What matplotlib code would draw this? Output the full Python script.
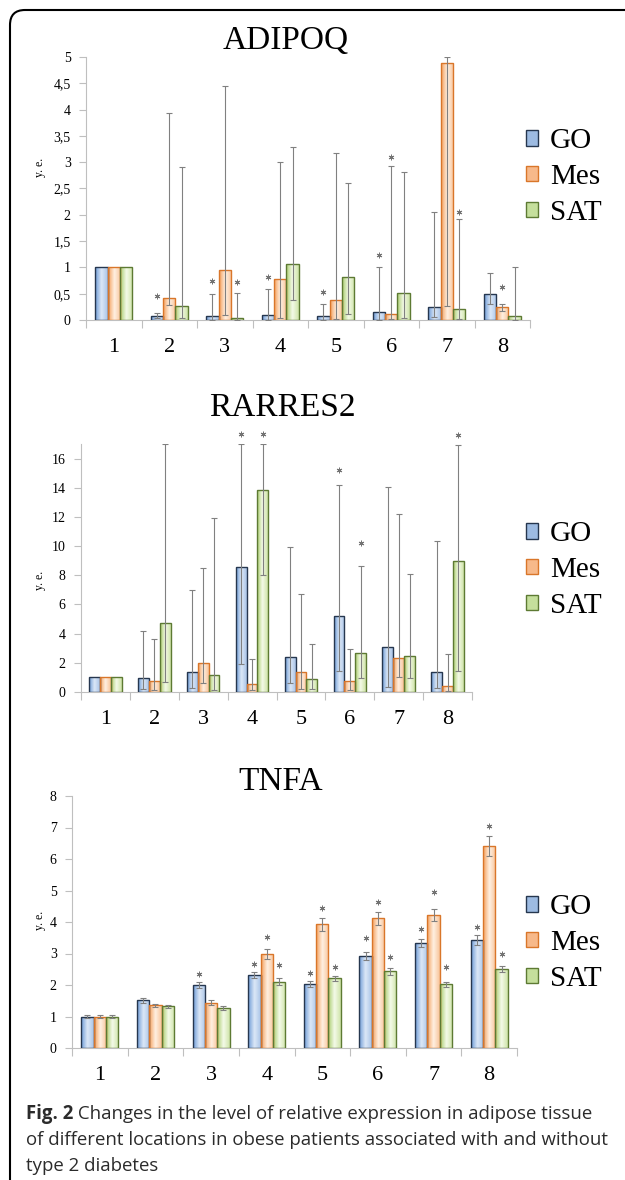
import numpy as np
import matplotlib
matplotlib.use('Agg')
import matplotlib.pyplot as plt
from matplotlib.colors import LinearSegmentedColormap
from matplotlib.patches import Rectangle, PathPatch
from matplotlib.path import Path
from matplotlib.ticker import FuncFormatter

nan = np.nan

groups = ['1', '2', '3', '4', '5', '6', '7', '8']
series = ['GO', 'Mes', 'SAT']

# ADIPOQ: bar value, lower / upper end of error bar, star height
adipoq_go = [1.0, 0.08, 0.08, 0.09, 0.07, 0.16, 0.25, 0.50]
adipoq_go_lo = [nan, 0.03, 0.0, 0.0, 0.0, 0.0, 0.05, 0.30]
adipoq_go_hi = [nan, 0.13, 0.50, 0.58, 0.30, 1.00, 2.05, 0.90]
adipoq_mes = [1.0, 0.42, 0.96, 0.77, 0.38, 0.12, 4.88, 0.24]
adipoq_mes_lo = [nan, 0.28, 0.09, 0.03, 0.02, 0.01, 0.27, 0.17]
adipoq_mes_hi = [nan, 3.93, 4.45, 3.00, 3.18, 2.93, 5.00, 0.30]
adipoq_sat = [1.0, 0.27, 0.03, 1.07, 0.81, 0.52, 0.20, 0.08]
adipoq_sat_lo = [nan, 0.03, 0.0, 0.38, 0.11, 0.03, 0.02, 0.0]
adipoq_sat_hi = [nan, 2.90, 0.51, 3.29, 2.61, 2.81, 1.92, 1.00]
adipoq_go_star = [nan, 0.45, 0.74, 0.82, 0.53, 1.24, nan, nan]
adipoq_mes_star = [nan, nan, nan, nan, nan, 3.09, nan, 0.62]
adipoq_sat_star = [nan, nan, 0.73, nan, nan, nan, 2.06, nan]

# RARRES2
rarres_go = [1.0, 0.98, 1.39, 8.58, 2.38, 5.23, 3.10, 1.35]
rarres_go_lo = [nan, 0.20, 0.26, 1.90, 0.60, 1.44, 0.37, 0.26]
rarres_go_hi = [nan, 4.18, 7.00, 17.0, 9.95, 14.2, 14.05, 10.34]
rarres_mes = [1.0, 0.77, 2.00, 0.52, 1.39, 0.75, 2.31, 0.43]
rarres_mes_lo = [nan, 0.14, 0.60, 0.14, 0.20, 0.14, 1.05, 0.10]
rarres_mes_hi = [nan, 3.60, 8.47, 2.24, 6.69, 2.92, 12.2, 2.58]
rarres_sat = [1.0, 4.75, 1.16, 13.84, 0.89, 2.69, 2.49, 8.99]
rarres_sat_lo = [nan, 0.70, 0.14, 8.01, 0.20, 0.98, 0.94, 1.44]
rarres_sat_hi = [nan, 17.0, 11.9, 17.0, 3.26, 8.66, 8.06, 16.96]
rarres_go_star = [nan, nan, nan, 17.7, nan, 15.25, nan, nan]
rarres_mes_star = [nan] * 8
rarres_sat_star = [nan, nan, nan, 17.7, nan, 10.2, nan, 17.65]

# TNFA (symmetric errors)
tnfa_go = [1.00, 1.51, 2.00, 2.32, 2.03, 2.92, 3.33, 3.43]
tnfa_go_err = [0.05, 0.07, 0.10, 0.10, 0.09, 0.12, 0.13, 0.15]
tnfa_mes = [1.00, 1.35, 1.44, 2.99, 3.93, 4.12, 4.22, 6.42]
tnfa_mes_err = [0.05, 0.06, 0.07, 0.15, 0.20, 0.20, 0.20, 0.32]
tnfa_sat = [1.00, 1.32, 1.27, 2.11, 2.22, 2.43, 2.03, 2.51]
tnfa_sat_err = [0.05, 0.06, 0.05, 0.10, 0.08, 0.10, 0.08, 0.10]
tnfa_go_star = [nan, nan, 2.34, 2.67, 2.38, 3.49, 3.79, 3.85]
tnfa_mes_star = [nan, nan, nan, 3.52, 4.45, 4.64, 4.94, 7.05]
tnfa_sat_star = [nan, nan, nan, 2.62, 2.58, 2.90, 2.58, 2.99]

caption_bold = 'Fig. 2'
caption_lines = [' Changes in the level of relative expression in adipose tissue',
                 'of different locations in obese patients associated with and without',
                 'type 2 diabetes']

SERIF = 'Liberation Serif'
plt.rcParams['font.family'] = SERIF

edge = {'GO': '#26374f', 'Mes': '#d9762a', 'SAT': '#5d7a33'}
shade = {'GO': ['#6d9bd6', '#dce8f7', '#a9c4e8'],
         'Mes': ['#f4a05c', '#fff0e2', '#f8c49a'],
         'SAT': ['#a9cc6c', '#f4fae9', '#cfe4a8']}
legend_face = {'GO': '#9dbbe2', 'Mes': '#f7b98a', 'SAT': '#c5df9c'}

W, H = 625, 1180
fig = plt.figure(figsize=(W / 100, H / 100), dpi=100)


def panel(box, title, title_pos, ymax, ystep, data, legend_y, ylabel_y, comma=False):
    left, top, right, bottom = box
    ax = fig.add_axes([left / W, 1 - bottom / H, (right - left) / W, (bottom - top) / H])
    x = np.arange(len(groups))
    width = 0.222
    grad = np.linspace(0, 1, 64).reshape(1, -1)
    for k, name in enumerate(series):
        vals, lo, hi, star = [np.array(a, dtype=float) for a in data[k]]
        pos = x + (k - 1) * width
        bars = ax.bar(pos, vals, width, facecolor='none', edgecolor=edge[name],
                      linewidth=1.0, zorder=3)
        cm = LinearSegmentedColormap.from_list(name, shade[name])
        for b in bars:
            x0 = b.get_x()
            im = ax.imshow(grad, cmap=cm, extent=(x0, x0 + b.get_width(), 0, b.get_height()),
                           aspect='auto', interpolation='bilinear', zorder=2)
            im.set_clip_path(b)
        ok = ~np.isnan(lo)
        ax.errorbar(pos[ok], vals[ok], yerr=[vals[ok] - lo[ok], hi[ok] - vals[ok]],
                    fmt='none', ecolor='#808080', elinewidth=0.8, capsize=2.5,
                    capthick=0.8, zorder=4)
        ax.plot(pos, star, linestyle='none', marker=(6, 2, 0), ms=4, mew=0.7,
                color='#737373', clip_on=False, zorder=5)

    ax.set_xlim(-0.5, len(groups) - 0.5)
    ax.set_ylim(0, ymax)
    ax.set_yticks(np.arange(0, ymax + 0.001, ystep))
    if comma:
        ax.yaxis.set_major_formatter(FuncFormatter(lambda v, p: ('%g' % v).replace('.', ',')))
    ax.set_xticks(x)
    ax.set_xticklabels(groups)
    ax.set_xticks(np.arange(-0.5, len(groups)), minor=True)
    ax.tick_params(axis='x', which='major', length=0, pad=13, labelsize=16)
    ax.tick_params(axis='x', which='minor', length=6, width=0.8, color='#bfbfbf')
    ax.tick_params(axis='y', length=5, width=0.8, color='#bfbfbf', pad=6, labelsize=10)
    for s in ['top', 'right']:
        ax.spines[s].set_visible(False)
    for s in ['left', 'bottom']:
        ax.spines[s].set_color('#bfbfbf')
        ax.spines[s].set_linewidth(0.8)

    fig.text(title_pos[0] / W, 1 - title_pos[1] / H, title, fontsize=24,
             ha='center', va='center')
    fig.text(40 / W, 1 - ylabel_y / H, 'y. e.', rotation=90, fontsize=8.5,
             ha='center', va='center')
    handles = [Rectangle((0, 0), 1, 1, facecolor=legend_face[n], edgecolor=edge[n], lw=1.0)
               for n in series]
    ax.legend(handles, series, loc='center left', bbox_to_anchor=(526 / W, 1 - legend_y / H),
              bbox_transform=fig.transFigure, frameon=False, prop={'size': 21},
              handlelength=0.42, handleheight=0.42, handletextpad=0.4,
              labelspacing=0.33, borderpad=0, borderaxespad=0)
    return ax


panel((86, 57, 530, 320), 'ADIPOQ', (286, 41), 5, 0.5,
      [(adipoq_go, adipoq_go_lo, adipoq_go_hi, adipoq_go_star),
       (adipoq_mes, adipoq_mes_lo, adipoq_mes_hi, adipoq_mes_star),
       (adipoq_sat, adipoq_sat_lo, adipoq_sat_hi, adipoq_sat_star)],
      177, 167, comma=True)

panel((81, 444, 472, 692), 'RARRES2', (282, 408), 17, 2,
      [(rarres_go, rarres_go_lo, rarres_go_hi, rarres_go_star),
       (rarres_mes, rarres_mes_lo, rarres_mes_hi, rarres_mes_star),
       (rarres_sat, rarres_sat_lo, rarres_sat_hi, rarres_sat_star)],
      570, 580)

tnfa = []
for v, e, s in [(tnfa_go, tnfa_go_err, tnfa_go_star),
                (tnfa_mes, tnfa_mes_err, tnfa_mes_star),
                (tnfa_sat, tnfa_sat_err, tnfa_sat_star)]:
    v = np.array(v)
    e = np.array(e)
    tnfa.append((v, v - e, v + e, s))
panel((72, 796, 517, 1048), 'TNFA', (281, 782), 8, 1, tnfa, 943, 920)

# caption
renderer = fig.canvas.get_renderer()
cap = dict(family='Open Sans', fontsize=13.4, color='#2b2b2b', va='baseline')
t = fig.text(26 / W, 1 - 1119 / H, caption_bold, fontweight='bold', **cap)
bb = t.get_window_extent(renderer)
fig.text(bb.x1 / W, 1 - 1119 / H, caption_lines[0], **cap)
fig.text(26 / W, 1 - 1145 / H, caption_lines[1], **cap)
fig.text(26 / W, 1 - 1171 / H, caption_lines[2], **cap)

# figure frame (left and top edges with a rounded corner; cut off at right and bottom)
r = 0.15
frame_path = Path([(0.1, -0.5), (0.1, 11.7 - r), (0.1, 11.7), (0.1 + r, 11.7), (7.0, 11.7)],
                  [Path.MOVETO, Path.LINETO, Path.CURVE3, Path.CURVE3, Path.LINETO])
fig.add_artist(PathPatch(frame_path, transform=fig.dpi_scale_trans, fill=False,
                         ec='black', lw=1.5))

fig.savefig('out.png', dpi=100)
